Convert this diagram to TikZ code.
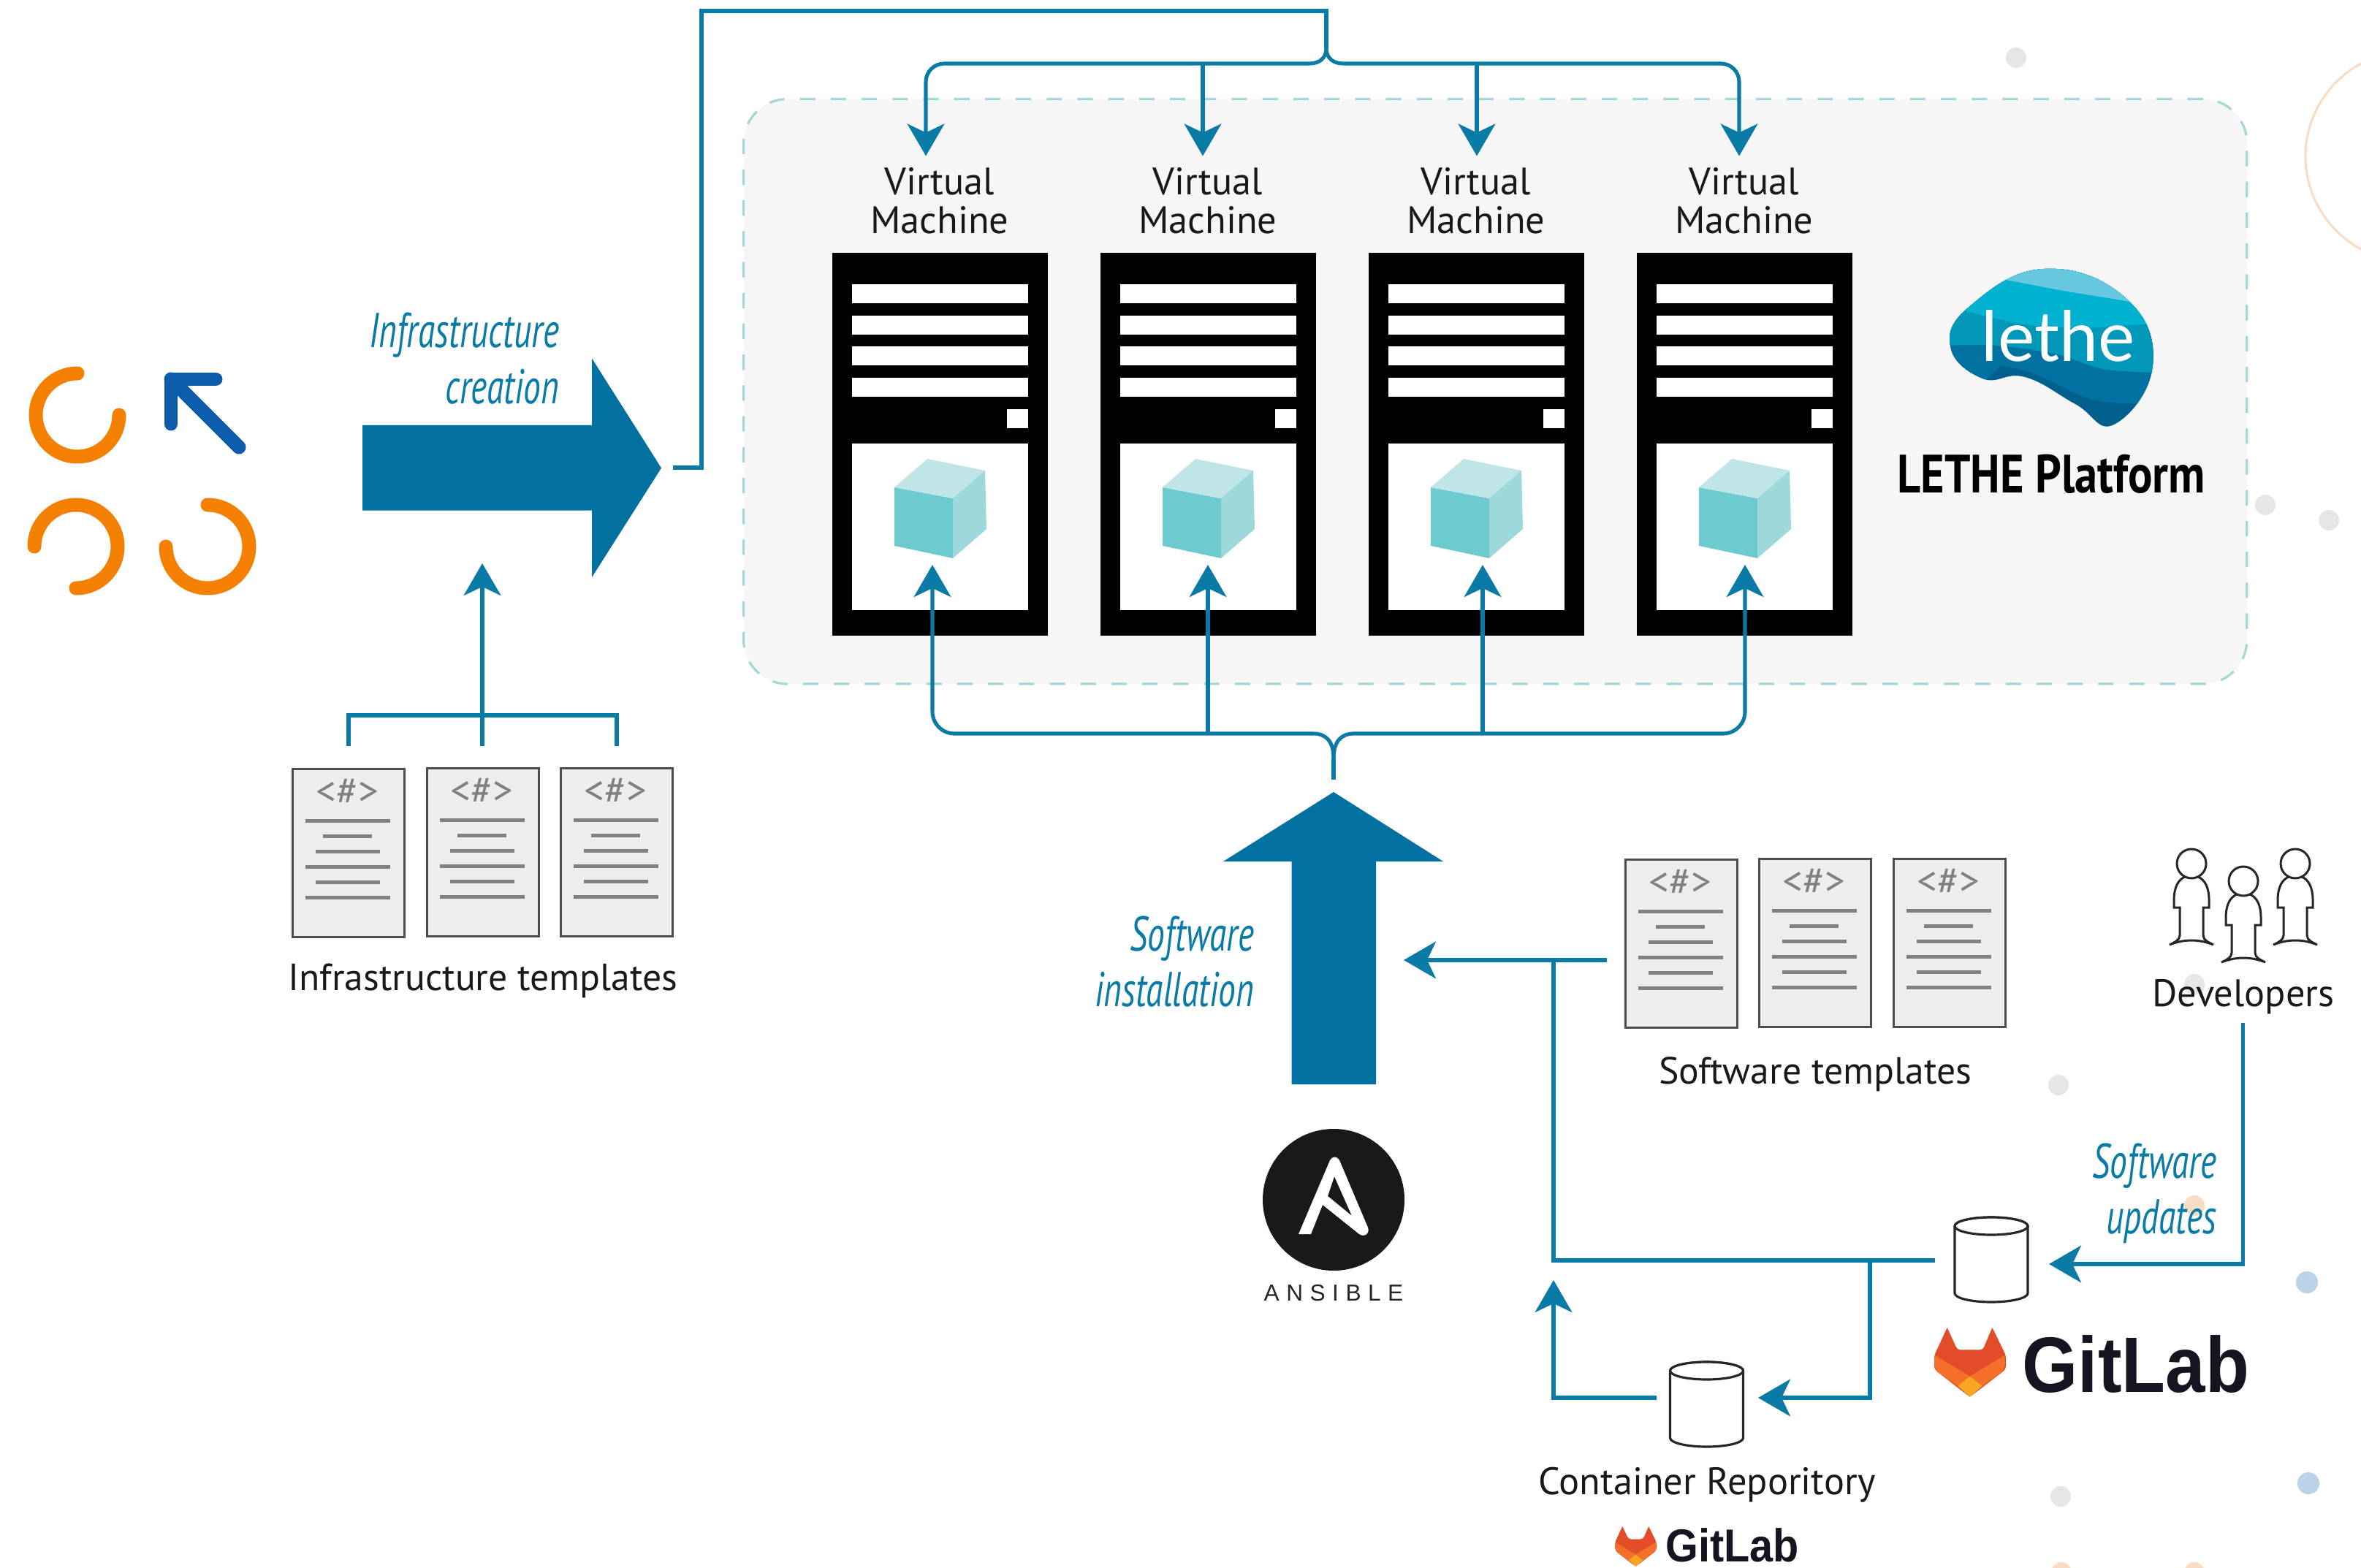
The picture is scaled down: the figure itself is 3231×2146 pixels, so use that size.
\documentclass[tikz,border=0pt]{standalone}
\usepackage{fontspec}
\usetikzlibrary{arrows.meta}
\setmainfont{PT Sans}
\newfontfamily\condit[FakeStretch=0.71,ItalicFont={PT Sans Italic}]{PT Sans}
\newfontfamily\condbf[FakeStretch=0.845]{PT Sans Bold}
\newfontfamily\lethefont{Lato}
\newfontfamily\labfont[FakeStretch=0.91]{Liberation Sans Bold}
\newfontfamily\ansfont[LetterSpace=30]{Liberation Sans}
\definecolor{flow}{HTML}{0A7AA6}
\definecolor{bigflow}{HTML}{03719F}
\definecolor{panelfill}{HTML}{F6F6F6}
\definecolor{paneldash}{HTML}{A5D6D8}
\definecolor{ringorange}{HTML}{F58000}
\definecolor{arrowblue}{HTML}{0B5CAB}
\definecolor{dotgrey}{HTML}{E6E6E6}
\definecolor{dotorange}{HTML}{F8DDC4}
\definecolor{dotblue}{HTML}{BBD2E9}
\definecolor{docfill}{HTML}{EDEDED}
\definecolor{docline}{HTML}{808080}
\definecolor{cubefront}{HTML}{6DCACE}
\definecolor{cubetop}{HTML}{C0E5E6}
\definecolor{cuberight}{HTML}{9DD8DA}
\definecolor{foxdark}{HTML}{E34C29}
\definecolor{foxmid}{HTML}{F36F2A}
\definecolor{foxlight}{HTML}{FBA524}
\definecolor{labink}{HTML}{171321}
\definecolor{bandA}{HTML}{005F8D}
\definecolor{bandB}{HTML}{0071A0}
\definecolor{bandC}{HTML}{0097B8}
\definecolor{bandD}{HTML}{00B2D0}
\definecolor{bandE}{HTML}{66C8DE}
\tikzset{
  flowline/.style={draw=flow,line width=1.45pt},
  flowarrow/.style={flowline,-{Stealth[length=12.5pt,width=14.4pt,inset=3.4pt]}},
  bigarrow/.style={fill=bigflow,draw=none},
  lbl/.style={anchor=base,inner sep=0pt,font=\fontsize{14.9}{15}\selectfont,text=black!90},
  widelbl/.style={anchor=base,inner sep=0pt,font=\fontsize{14.7}{15}\selectfont,text=black!90},
  flowlbl/.style={anchor=base east,inner sep=0pt,text=flow,font=\fontsize{19}{20}\condit\itshape},
  vmbox/.style={anchor=north west,fill=black,draw=none,inner sep=0pt,minimum width=2.955cm,minimum height=5.24cm},
  docbox/.style={fill=docfill,draw=black!70,line width=0.85pt,inner sep=0pt,minimum width=1.53cm,minimum height=2.30cm,anchor=north west},
  docrule/.style={draw=docline,line width=1.4pt},
  ring/.style={draw=ringorange,line width=5.4pt,line cap=round},
  cyl/.style={draw=black!85,line width=0.9pt,fill=white},
  person/.style={draw=black!85,line width=0.85pt,fill=white,line join=miter},
  bgdot/.style={fill=dotgrey,draw=none},
  docicon/.pic={
    \node[anchor=base,inner sep=0pt,text=docline,font=\fontsize{15.6}{16}\selectfont] at (76.5,50) {<\#>};
    \draw[docrule] (18.5,72.5) -- ++(116,0);
    \draw[docrule] (43,93.5) -- ++(67,0);
    \draw[docrule] (32.5,114.5) -- ++(88,0);
    \draw[docrule] (18.5,135.5) -- ++(116,0);
    \draw[docrule] (32.5,156.5) -- ++(88,0);
    \draw[docrule] (18.5,177.5) -- ++(116,0);
  },
  servericon/.pic={
    \foreach \yy in {390,433,475,518}{\fill[white] (27,\yy) rectangle (268,\yy+26);}
    \fill[white] (239,561) rectangle (268,587);
    \fill[white] (27,608) rectangle (268,836);
    \fill[cubefront] (85,668) -- (165,683) -- (165,765) -- (85,748) -- cycle;
    \fill[cubetop] (85,668) -- (130,629) -- (209,645) -- (165,683) -- cycle;
    \fill[cuberight] (165,683) -- (209,645) -- (211,725) -- (165,765) -- cycle;
  },
  dbicon/.pic={
    \draw[cyl] (-50,0) -- (-50,92) arc[start angle=180,delta angle=-180,x radius=50,y radius=12] -- (50,0)
      arc[start angle=0,delta angle=-180,x radius=50,y radius=12];
    \draw[cyl] (0,0) ellipse[x radius=50,y radius=12];
  },
  devicon/.pic={
    \draw[person] (-30,111) .. controls (-24,108) and (-16,105) .. (-16,98) -- (-16,60) -- (-24,60) -- (-24,50)
      .. controls (-24,32) and (-18,22) .. (-9,18) -- (9,18) .. controls (18,22) and (24,32) .. (24,50)
      -- (24,60) -- (16,60) -- (16,98) .. controls (16,105) and (24,108) .. (30,111)
      .. controls (10,103) and (-10,103) .. (-30,111) -- cycle;
    \draw[person] (0,0) circle[radius=20];
  },
  foxicon/.pic={
    \fill[foxdark,rounded corners=1.2pt] (18,0) -- (32,32) -- (68,32) -- (81,0) -- (100,40) -- (100,60) -- (49.5,100) -- (0,60) -- (0,40) -- cycle;
    \fill[foxdark] (18,0) -- (3,38) -- (32,32) -- cycle (81,0) -- (97,38) -- (68,32) -- cycle;
    \fill[foxmid] (1,40) -- (49.5,70) -- (33,84) -- (6,65) .. controls (0,60) and (-1,48) .. (1,40) -- cycle;
    \fill[foxmid] (98,40) -- (49.5,70) -- (67,84) -- (93,65) .. controls (99,60) and (100,48) .. (98,40) -- cycle;
    \fill[foxlight] (49.5,100) -- (33,84) -- (49.5,70) -- (67,84) -- cycle;
  }
}
\begin{document}
\begin{tikzpicture}[x=0.01cm,y=-0.01cm]
\useasboundingbox (0,0) rectangle (3231,2146);
\fill[white] (0,0) rectangle (3231,2146);
% background decoration
\foreach \px/\py in {2759/79,3100/691,3187/712,2817/1485,3003/1347,2820/2048}{\fill[bgdot] (\px,\py) circle[radius=14];}
\foreach \px/\py in {3157/1755,3159/2030}{\fill[dotblue] (\px,\py) circle[radius=15];}
\foreach \px/\py in {3003/1650,2821/2152,3003/2152}{\fill[dotorange] (\px,\py) circle[radius=14];}
\draw[dotorange,line width=0.9pt] (3299,214) circle[radius=144];
% panel
\node[anchor=north west,inner sep=0pt,minimum width=20.56cm,minimum height=8cm,fill=panelfill,draw=paneldash,line width=0.9pt,dash pattern=on 6pt off 6pt,rounded corners=0.6cm] (panel) at (1016,134) {};
% virtual machines
\foreach \i/\xx in {1/1138,2/1505,3/1872,4/2239}{
  \node[vmbox] (vm\i) at (\xx,345) {};
  \pic at (\xx+1,-1) {servericon};
  \node[lbl] (vmt\i) at (\xx+148,267) {Virtual};
  \node[lbl] (vmb\i) at (\xx+148,320) {Machine};
}
% top fork
\coordinate (srcR) at (921,640);
\coordinate (stemB) at (1815,15);
\coordinate (topA) at (1267,213.5);
\coordinate (topB) at (1646,213.5);
\coordinate (topC) at (2021,213.5);
\coordinate (topD) at (2380,213.5);
\draw[flowline,line join=miter] (srcR) -- (960,640) -- (960,15) -- (stemB) -- (1815,66);
\draw[flowline] (1815,66) .. controls (1815,80) and (1805,87) .. (1792,87);
\draw[flowline] (1815,66) .. controls (1815,80) and (1825,87) .. (1838,87);
\draw[flowarrow,rounded corners=0.25cm] (1792,87) -- (1267,87) -- (topA);
\draw[flowarrow,rounded corners=0.25cm] (1838,87) -- (2380,87) -- (topD);
\draw[flowarrow] (1646,87) -- (topB);
\draw[flowarrow] (2021,87) -- (topC);
% bottom fork
\coordinate (botS) at (1825,1067);
\coordinate (botA) at (1276,773);
\coordinate (botB) at (1653,773);
\coordinate (botC) at (2029,773);
\coordinate (botD) at (2388,773);
\draw[flowline] (botS) -- (1825,1038);
\draw[flowline] (1825,1038) .. controls (1825,1015) and (1815,1004) .. (1797,1004);
\draw[flowline] (1825,1038) .. controls (1825,1015) and (1835,1004) .. (1853,1004);
\draw[flowarrow,rounded corners=0.3cm] (1797,1004) -- (1276,1004) -- (botA);
\draw[flowarrow,rounded corners=0.3cm] (1853,1004) -- (2388,1004) -- (botD);
\draw[flowarrow] (1653,1004) -- (botB);
\draw[flowarrow] (2029,1004) -- (botC);
% big arrows
\fill[bigarrow] (496,582) -- (810,582) -- (810,490.5) -- (905,640.5) -- (810,790) -- (810,698.5) -- (496,698.5) -- cycle;
\fill[bigarrow] (1825,1084) -- (1975,1179) -- (1883,1179) -- (1883,1484) -- (1767.5,1484) -- (1767.5,1179) -- (1674,1179) -- cycle;
\node[flowlbl] (lblInfA) at (766,476) {Infrastructure};
\node[flowlbl] (lblInfB) at (766,553) {creation};
\node[flowlbl] (lblSwA) at (1717,1301) {Software};
\node[flowlbl] (lblSwB) at (1717,1377) {installation};
\node[flowlbl] (lblUpA) at (3034,1612) {Software};
\node[flowlbl] (lblUpB) at (3034,1688) {updates};
% orange rings + arrow
\draw[ring] (106,511) arc[start angle=270,delta angle=-270,radius=57];
\draw[ring] (47,748) arc[start angle=180,delta angle=270,radius=57];
\draw[ring] (284,691) arc[start angle=270,delta angle=270,radius=57];
\draw[arrowblue,line width=5.4pt,line cap=round,line join=round] (295,519) -- (234,519) -- (234,580);
\draw[arrowblue,line width=5.4pt,line cap=round] (234,519) -- (327,612);
% infrastructure templates
\foreach \i/\xx/\yy in {1/399/1051,2/583/1050,3/766/1050}{
  \node[docbox] (inf\i) at (\xx,\yy) {};
  \pic at (\xx,\yy) {docicon};
}
\node[widelbl] (infLbl) at (661,1355) {Infrastructure templates};
\coordinate (infTip) at (660,771);
\draw[flowarrow] (660,1021) -- (infTip);
\draw[flowline] (477,1021) -- (477,979) -- (844,979) -- (844,1021);
% software templates
\foreach \i/\xx/\yy in {1/2223/1175,2/2406/1174,3/2590/1174}{
  \node[docbox] (sw\i) at (\xx,\yy) {};
  \pic at (\xx,\yy) {docicon};
}
\node[widelbl] (swLbl) at (2484,1483) {Software templates};
% lower connectors
\coordinate (instTip) at (1921,1314);
\coordinate (swEnd) at (2199,1314);
\coordinate (gitW) at (2648,1725);
\coordinate (joint) at (2126,1725);
\coordinate (gitBr) at (2559,1725);
\coordinate (crE) at (2406,1913);
\coordinate (crW) at (2267,1913);
\coordinate (jointTip) at (2126,1752);
\coordinate (devS) at (3069,1400);
\coordinate (gitE) at (2804,1730);
\draw[flowarrow] (swEnd) -- (instTip);
\draw[flowline] (gitW) -- (joint) -- (2126,1314);
\draw[flowarrow] (gitBr) -- (2559,1913) -- (crE);
\draw[flowarrow] (crW) -- (2126,1913) -- (jointTip);
\draw[flowarrow] (devS) -- (3069,1730) -- (gitE);
% cylinders
\pic at (2725,1678) {dbicon};
\pic at (2335.5,1876) {dbicon};
\node[lbl] (crLbl) at (2336,2045) {Container Reporitory};
% developers
\pic at (2999,1182) {devicon};
\pic at (3070,1206) {devicon};
\pic at (3141,1182) {devicon};
\node[lbl] (devLbl) at (3070,1377) {Developers};
% gitlab logos
\pic[xscale=0.98,yscale=0.95] at (2647,1817) {foxicon};
\node[anchor=base west,inner sep=0pt,text=labink,font=\fontsize{30.6}{32}\labfont] (glA) at (2767,1905) {GitLab};
\pic[xscale=0.57,yscale=0.55] at (2210,2089) {foxicon};
\node[anchor=base west,inner sep=0pt,text=labink,font=\fontsize{18}{19}\labfont] (glB) at (2279,2137) {GitLab};
% ansible
\fill[black!90] (1825,1642) circle[radius=97];
\fill[white,even odd rule] (1777,1689) -- (1820,1588) .. controls (1823,1582) and (1830,1582) .. (1833,1588) -- (1872,1680) .. controls (1875,1688) and (1867,1694) .. (1860,1689) -- (1810,1649) -- (1794,1689) -- cycle
  (1826,1610) -- (1850,1664) -- (1817,1637) -- cycle;
\node[anchor=base,inner sep=0pt,text=black!85,font=\fontsize{9}{10}\ansfont] (ansLbl) at (1825,1780) {ANSIBLE};
% lethe logo
\begin{scope}
  \clip plot[smooth cycle,tension=0.75] coordinates {(2797.5,368) (2909,408) (2946,500) (2893,581) (2840,553) (2771,516) (2713,518) (2669,474) (2697,418)};
  \fill[bandA] (2600,300) rectangle (3000,620);
  \fill[bandB] plot[smooth] coordinates {(3000,555) (2933,553) (2866,548) (2819,528) (2780,510) (2740,500)} -- (2600,620) -- (2600,300) -- (3000,300) -- cycle;
  \fill[bandC] plot[smooth] coordinates {(3000,512) (2946,510) (2877,505) (2813,484.5) (2718,472) (2600,476)} -- (2600,300) -- (3000,300) -- cycle;
  \fill[bandD] plot[smooth] coordinates {(3000,442) (2933,444) (2850,449) (2771,444) (2691.5,426) (2600,400)} -- (2600,300) -- (3000,300) -- cycle;
  \fill[bandE] plot[smooth] coordinates {(3000,430) (2909,412) (2824,398) (2739,382) (2680,372)} -- (2680,300) -- (3000,300) -- cycle;
\end{scope}
\node[anchor=base west,inner sep=0pt,text=white,font=\fontsize{27}{28}\lethefont] (lethe) at (2711,495) {lethe};
\node[anchor=base,inner sep=0pt,text=black,font=\fontsize{21}{22}\condbf] (platform) at (2807,674) {LETHE Platform};
\end{tikzpicture}
\end{document}
